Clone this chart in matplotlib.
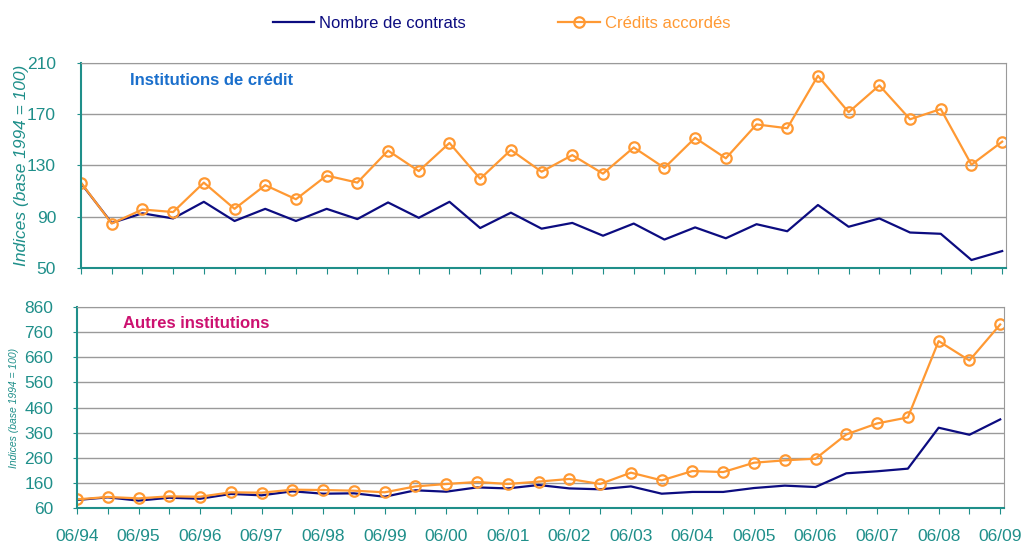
import matplotlib
matplotlib.use('Agg')
import numpy as np
import matplotlib.pyplot as plt

# semi-annual points, 06/94 .. 06/09
years = ['94', '95', '96', '97', '98', '99', '00', '01', '02', '03', '04', '05', '06', '07', '08', '09']
tick_labels = ['06/' + y for y in years]

# Institutions de credit
ic_contrats = [116, 85, 92.5, 88.5, 101.5, 86.5, 96, 86.5, 96, 88, 101, 89, 101.5, 81, 93,
               80.5, 85, 75, 84.5, 72, 81.5, 73, 84, 78.5, 99, 82, 88.5, 77.5, 76.5, 56, 63]
ic_credits = [116.5, 84.5, 95.5, 93.5, 116.5, 96, 114.5, 103.5, 122, 116.5, 141.5, 125.5, 147.5, 119.5, 142,
              125, 138, 123.5, 144, 128, 151.5, 135.5, 162, 159, 200, 171.5, 192.5, 166, 174, 130.5, 148.5]

# Autres institutions
ai_contrats = [93, 103.5, 90.5, 102, 98, 117, 111.5, 127.5, 118, 119.5, 106, 131.5, 126, 143, 139,
               152.5, 139, 135.5, 147, 118, 125, 125, 140.5, 150, 144.5, 199, 207, 217.5, 380, 352, 413]
ai_credits = [95.5, 105, 99.5, 107.5, 106, 123.5, 122, 134, 132.5, 130, 123.5, 147, 156.5, 164.5, 156.5,
              166, 176.5, 156.5, 201.5, 171, 208, 204, 241, 250.5, 257, 353.5, 397, 421, 724, 647, 790]

navy = '#0c0c80'
orange = '#ff9933'
teal = '#1f8f8a'
grey = '#9a9a9a'

plt.rcParams['font.family'] = ['Liberation Sans', 'DejaVu Sans']

fig = plt.figure(figsize=(10.36, 5.43), dpi=100)
ax1 = fig.add_axes([0.0782, 0.507, 0.893, 0.377])
ax2 = fig.add_axes([0.0743, 0.0639, 0.895, 0.371])

x = np.arange(len(ic_contrats))

def style(ax, yticks, ylim, pad):
	ax.set_xlim(0, 30.13)
	ax.set_ylim(*ylim)
	ax.set_yticks(yticks)
	ax.set_xticks(x)
	ax.yaxis.grid(True, color=grey, linewidth=1)
	ax.set_axisbelow(True)
	ax.spines['left'].set_color(teal)
	ax.spines['bottom'].set_color(teal)
	ax.spines['left'].set_linewidth(1.5)
	ax.spines['bottom'].set_linewidth(1.5)
	ax.spines['top'].set_color(grey)
	ax.spines['right'].set_color(grey)
	ax.tick_params(axis='y', colors=teal, labelsize=12.5, length=3, pad=pad)
	ax.tick_params(axis='x', colors=teal, labelsize=12.5, length=4, pad=11)

for ax, c1, c2 in [(ax1, ic_contrats, ic_credits), (ax2, ai_contrats, ai_credits)]:
	ax.plot(x, c1, color=navy, linewidth=1.6, label='Nombre de contrats')
	ax.plot(x, c2, color=orange, linewidth=1.6, marker='o', markersize=7.5,
		markerfacecolor='none', markeredgewidth=1.6, label='Crédits accordés')

style(ax1, [50, 90, 130, 170, 210], (50, 210), 15)
style(ax2, np.arange(60, 861, 100), (60, 860), 14)

ax1.set_xticklabels([])
ax2.set_xticklabels([tick_labels[i // 2] if i % 2 == 0 else '' for i in x])

ax1.set_ylabel('Indices (base 1994 = 100)', color=teal, fontsize=12.5, style='italic')
ax1.yaxis.set_label_coords(-0.056, 0.5)
ax2.set_ylabel('Indices (base 1994 = 100)', color=teal, fontsize=7.5, style='italic')
ax2.yaxis.set_label_coords(-0.062, 0.5)

ax1.text(0.053, 0.915, 'Institutions de crédit', transform=ax1.transAxes, color='#1a6fcc',
	fontsize=12, fontweight='bold', va='center')
ax2.text(0.05, 0.915, 'Autres institutions', transform=ax2.transAxes, color='#cc1170',
	fontsize=12, fontweight='bold', va='center')

h, l = ax1.get_legend_handles_labels()
fig.legend(h, l, loc='center', bbox_to_anchor=(0.484, 0.957), ncol=2, frameon=False,
	fontsize=12, handlelength=2.5, columnspacing=5.5, handletextpad=0.3, labelcolor='linecolor')

plt.savefig('out.png', dpi=100)
